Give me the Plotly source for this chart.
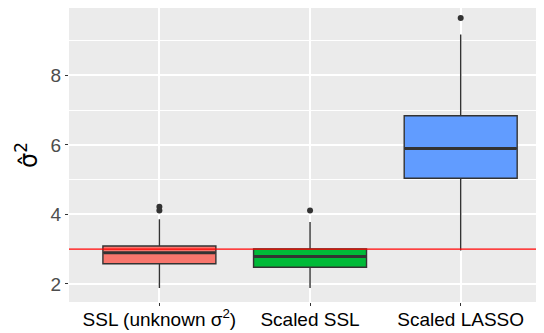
import plotly.graph_objects as go

categories = ["SSL (unknown σ<sup>2</sup>)", "Scaled SSL", "Scaled LASSO"]
lowerfence = [1.88, 1.88, 2.96]
q1 = [2.58, 2.48, 5.04]
median = [2.90, 2.79, 5.90]
q3 = [3.09, 3.01, 6.84]
upperfence = [3.86, 3.78, 9.18]
colors = ["#F8766D", "#00BA38", "#619CFF"]

outlier_cat = [categories[0], categories[0], categories[1], categories[2]]
outlier_val = [4.22, 4.11, 4.11, 9.65]

true_sigma2 = 3
y_ticks = [2, 4, 6, 8]

fig = go.Figure()
for i, c in enumerate(categories):
    fig.add_trace(go.Box(
        x=[c], q1=[q1[i]], median=[median[i]], q3=[q3[i]],
        lowerfence=[lowerfence[i]], upperfence=[upperfence[i]],
        fillcolor=colors[i], line=dict(color="#333333", width=1.4),
        whiskerwidth=0, width=0.75, boxpoints=False, showlegend=False,
        hoverinfo="skip",
    ))
    # thicker median (ggplot fatten)
    fig.add_trace(go.Scatter(
        x=[c], y=[median[i]], mode="markers",
        marker=dict(symbol="line-ew", size=80, line=dict(color="#333333", width=3)),
        showlegend=False, hoverinfo="skip",
    ))

fig.add_trace(go.Scatter(
    x=outlier_cat, y=outlier_val, mode="markers",
    marker=dict(color="#333333", size=6), showlegend=False, hoverinfo="skip",
))

fig.add_hline(y=true_sigma2, line=dict(color="#FF0000", width=1.2), layer="above")

fig.update_layout(
    width=536, height=325,
    margin=dict(l=61, r=0, t=0, b=31),
    paper_bgcolor="white", plot_bgcolor="#EBEBEB",
    font=dict(family="Liberation Sans, Arial, sans-serif"),
)
fig.update_xaxes(
    type="category", categoryorder="array", categoryarray=categories,
    range=[-0.6, 2.553], showgrid=True, gridcolor="white", gridwidth=1.5,
    zeroline=False, ticks="outside", ticklen=3, tickcolor="#333333",
    ticklabelstandoff=-3,
    tickfont=dict(size=19, color="#000000"), showline=False, automargin=False,
)
fig.update_yaxes(
    range=[1.48, 9.94], tickvals=y_ticks, ticktext=[str(v) for v in y_ticks],
    showgrid=True, gridcolor="white", gridwidth=1.5, zeroline=False,
    ticks="outside", ticklen=3, tickcolor="#333333",
    tickfont=dict(size=19, color="#4D4D4D"), automargin=False,
    minor=dict(tickvals=[3, 5, 7, 9], showgrid=True, gridcolor="white", gridwidth=0.7, ticks=""),
    title=dict(text="σ\u0302<sup>2</sup>", font=dict(size=24, color="#000000", family="DejaVu Sans"), standoff=6),
)

fig.write_html("out.html")
